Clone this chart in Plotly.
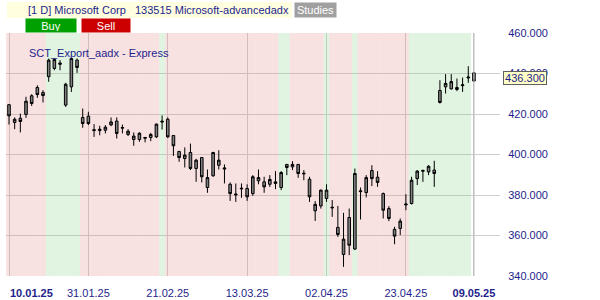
import plotly.graph_objects as go

# ---------------- data ----------------
dates = [
    "2025-01-10", "2025-01-13", "2025-01-14", "2025-01-15", "2025-01-16", "2025-01-17",
    "2025-01-21", "2025-01-22", "2025-01-23", "2025-01-24", "2025-01-27", "2025-01-28",
    "2025-01-29", "2025-01-30", "2025-01-31",
    "2025-02-03", "2025-02-04", "2025-02-05", "2025-02-06", "2025-02-07", "2025-02-10",
    "2025-02-11", "2025-02-12", "2025-02-13", "2025-02-14", "2025-02-18", "2025-02-19",
    "2025-02-20", "2025-02-21", "2025-02-24", "2025-02-25", "2025-02-26", "2025-02-27",
    "2025-02-28",
    "2025-03-03", "2025-03-04", "2025-03-05", "2025-03-06", "2025-03-07", "2025-03-10",
    "2025-03-11", "2025-03-12", "2025-03-13", "2025-03-14", "2025-03-17", "2025-03-18",
    "2025-03-19", "2025-03-20", "2025-03-21", "2025-03-24", "2025-03-25", "2025-03-26",
    "2025-03-27", "2025-03-28", "2025-03-31",
    "2025-04-01", "2025-04-02", "2025-04-03", "2025-04-04", "2025-04-07", "2025-04-08",
    "2025-04-09", "2025-04-10", "2025-04-11", "2025-04-14", "2025-04-15", "2025-04-16",
    "2025-04-17", "2025-04-21", "2025-04-22", "2025-04-23", "2025-04-24", "2025-04-25",
    "2025-04-28", "2025-04-29", "2025-04-30",
    "2025-05-01", "2025-05-02", "2025-05-05", "2025-05-06", "2025-05-07", "2025-05-08",
    "2025-05-09",
]

opens = [
    424.6, 415.8, 417.9, 419.8, 429.0, 433.1, 430.6, 438.4, 442.5, 445.2, 424.4, 433.4,
    446.6, 418.3, 418.9,
    411.8, 411.8, 412.0, 414.6, 416.5, 413.0, 409.9, 407.4, 407.4, 408.0, 408.4, 408.7,
    416.0, 417.4, 409.4, 401.5, 398.0, 401.0, 393.1,
    398.5, 383.7, 389.5, 394.7, 392.8, 385.3, 380.0, 383.0, 383.2, 380.7, 387.0, 386.5,
    385.3, 385.7, 383.7, 395.1, 393.9, 395.1, 390.4, 387.8, 372.2,
    374.6, 378.3, 373.6, 364.0, 350.6, 368.9, 353.3, 382.1, 381.2, 392.1, 388.8, 380.7,
    373.3, 363.0, 363.5, 375.1, 375.8, 388.1, 391.7, 391.4, 392.3,
    431.6, 433.4, 432.4, 433.1, 434.0, 437.8, 440.3,
]

highs = [
    424.9, 418.3, 420.2, 428.5, 429.8, 434.2, 431.8, 447.4, 447.4, 446.6, 435.4, 447.9,
    447.4, 422.7, 421.1,
    415.0, 414.2, 414.5, 418.3, 418.3, 414.8, 412.5, 410.9, 411.0, 408.7, 410.7, 415.3,
    419.3, 418.3, 409.4, 401.8, 403.5, 405.4, 397.9,
    398.5, 392.6, 401.3, 402.1, 395.1, 386.2, 385.7, 385.7, 385.3, 389.8, 392.6, 389.0,
    389.8, 391.8, 391.8, 395.1, 396.7, 395.1, 392.3, 389.0, 377.0,
    382.7, 385.3, 377.5, 374.6, 371.2, 373.3, 393.1, 383.7, 389.8, 394.7, 391.8, 381.2,
    374.5, 364.3, 368.4, 380.4, 389.0, 392.3, 392.6, 394.7, 396.9,
    436.7, 439.7, 439.7, 437.5, 438.0, 443.6, 440.8,
]

lows = [
    414.8, 412.5, 410.9, 418.1, 424.0, 428.0, 425.7, 435.9, 441.6, 441.6, 423.5, 430.9,
    440.3, 413.2, 414.5,
    408.7, 409.5, 410.4, 414.0, 407.9, 410.4, 409.1, 404.3, 406.3, 406.0, 406.6, 408.2,
    412.3, 408.2, 399.3, 396.4, 393.6, 392.3, 386.5,
    386.2, 381.1, 389.0, 392.6, 385.7, 377.1, 376.6, 378.6, 377.1, 379.6, 385.3, 381.1,
    384.0, 382.9, 382.4, 389.8, 392.3, 388.5, 387.3, 376.6, 367.2,
    373.3, 376.6, 369.2, 359.3, 344.5, 350.3, 352.8, 367.9, 378.8, 384.4, 384.0, 368.4,
    367.1, 355.7, 360.2, 372.5, 375.3, 384.9, 386.5, 389.8, 384.0,
    425.2, 430.1, 432.1, 431.3, 430.9, 435.4, 436.2,
]

closes = [
    419.1, 417.4, 416.3, 426.3, 425.2, 429.6, 429.1, 446.6, 446.9, 444.6, 434.7, 447.4,
    443.0, 415.3, 415.3,
    412.2, 412.5, 413.5, 416.1, 410.4, 413.3, 411.5, 409.1, 410.5, 408.4, 409.9, 415.0,
    416.4, 408.7, 404.3, 398.5, 399.7, 393.1, 397.2,
    389.0, 388.6, 401.0, 397.2, 393.3, 380.7, 380.4, 383.3, 379.1, 389.0, 388.6, 384.0,
    387.7, 386.5, 391.1, 393.6, 395.1, 390.6, 390.7, 379.1, 375.4,
    382.4, 382.4, 373.9, 360.5, 358.2, 355.2, 390.6, 381.7, 388.6, 388.1, 386.2, 372.5,
    368.4, 359.7, 367.1, 375.5, 387.3, 391.8, 392.1, 394.2, 390.6,
    425.7, 435.1, 436.0, 432.1, 434.4, 438.2, 436.3,
]

# S = sell regime (red band), B = buy regime (green band), N = none
regime = list(
    "SSSSSSS" "BBBBBB" "SSSSSSSSSSSSSS" "B" "SSSSSSSSSSSSSSSSSSSS" "BB"
    "SSSSSS" "B" "SSSS" "B" "SSSSSSSSS" "BBBBBBBBBBB" "N"
)

tick_dates = ["2025-01-10", "2025-01-31", "2025-02-21", "2025-03-13",
              "2025-04-02", "2025-04-23", "2025-05-09"]
bold_ticks = ["2025-01-10", "2025-05-09"]
y_ticks = [340, 360, 380, 400, 420, 440, 460]

title_text = "[1 D] Microsoft Corp   133515 Microsoft-advancedadx"
strategy_text = "SCT_Export_aadx - Express"

# ---------------- styling ----------------
NAVY = "#1e1e8c"
FONT = "Liberation Sans, Arial, sans-serif"
band_colors = {"S": "rgba(226,128,128,0.24)", "B": "rgba(128,204,128,0.24)", "N": "rgba(0,0,0,0)"}

x = list(range(len(dates)))


def fmt(d):
    y, m, dd = d.split("-")
    return f"{dd}.{m}.{y[2:]}"


tickvals = [dates.index(d) for d in tick_dates]
ticktext = []
for d in tick_dates:
    if d == tick_dates[0]:
        ticktext.append("")  # first label drawn left-aligned as annotation
    elif d in bold_ticks:
        ticktext.append(f"<b>{fmt(d)}</b>")
    else:
        ticktext.append(fmt(d))

fig = go.Figure()

# regime bands
fig.add_trace(go.Bar(
    x=x,
    y=[y_ticks[-1] - y_ticks[0]] * len(x),
    base=y_ticks[0],
    width=1,
    marker=dict(color=[band_colors[r] for r in regime], line=dict(width=0)),
    hoverinfo="skip",
    showlegend=False,
))

# candles
fig.add_trace(go.Candlestick(
    x=x, open=opens, high=highs, low=lows, close=closes,
    increasing=dict(fillcolor="#808080", line=dict(color="#000000", width=1)),
    decreasing=dict(fillcolor="#808080", line=dict(color="#000000", width=1)),
    whiskerwidth=0,
    showlegend=False,
))

px_per = 5.67
left_px, right_px = 6, 500
top_px, bottom_px = 33, 276
first_px = 9
x_lo = -(first_px - left_px) / px_per
x_hi = (right_px - first_px) / px_per

fig.update_layout(
    width=600, height=300,
    margin=dict(l=left_px, r=600 - right_px, t=top_px, b=300 - bottom_px, autoexpand=False),
    paper_bgcolor="white", plot_bgcolor="white",
    font=dict(family=FONT, size=11, color=NAVY),
    boxgap=0.35,
    xaxis=dict(
        range=[x_lo, x_hi], tickvals=tickvals, ticktext=ticktext,
        showgrid=True, gridcolor="#cfcfcf", gridwidth=1,
        zeroline=False, showline=False, automargin=False,
        ticks="outside", ticklen=7, tickcolor="rgba(0,0,0,0)",
        tickfont=dict(family=FONT, size=11, color=NAVY),
        rangeslider=dict(visible=False),
    ),
    yaxis=dict(
        range=[y_ticks[0], y_ticks[-1]], tickvals=y_ticks, tickformat=".3f",
        side="right", showgrid=True, gridcolor="#cfcfcf", gridwidth=1,
        zeroline=False, showline=False, automargin=False,
        ticks="outside", ticklen=5, tickcolor="rgba(0,0,0,0)",
        tickfont=dict(family=FONT, size=11, color=NAVY),
    ),
)

# darker vertical line at last bar
fig.add_shape(type="line", xref="x", yref="y", x0=x[-1], x1=x[-1],
              y0=y_ticks[0], y1=y_ticks[-1], line=dict(color="#b4b4b4", width=1))


def px_x(p):
    return (p - left_px) / (right_px - left_px)


def px_y(p):
    return (bottom_px - p) / (bottom_px - top_px)


# header bar
fig.add_shape(type="rect", xref="paper", yref="paper",
              x0=px_x(7), x1=px_x(292), y0=px_y(18), y1=px_y(2),
              fillcolor="#ffffe0", line=dict(width=0), layer="above")

fig.add_annotation(xref="paper", yref="paper", x=px_x(26), y=px_y(10),
                   xanchor="left", yanchor="middle", showarrow=False,
                   text=title_text, font=dict(family=FONT, size=11, color=NAVY))

fig.add_annotation(xref="paper", yref="paper", x=px_x(315.5), y=px_y(10),
                   xanchor="center", yanchor="middle", showarrow=False,
                   text="Studies", bgcolor="#a0a0a0", width=39, height=12,
                   borderpad=1, font=dict(family=FONT, size=11, color="white"))

fig.add_annotation(xref="paper", yref="paper", x=px_x(51), y=px_y(25.5),
                   xanchor="center", yanchor="middle", showarrow=False,
                   text="Buy", bgcolor="#00a000", width=48, height=11,
                   borderpad=1, font=dict(family=FONT, size=11, color="white"))

fig.add_annotation(xref="paper", yref="paper", x=px_x(106), y=px_y(25.5),
                   xanchor="center", yanchor="middle", showarrow=False,
                   text="Sell", bgcolor="#cc0000", width=46, height=11,
                   borderpad=1, font=dict(family=FONT, size=11, color="white"))

fig.add_annotation(xref="paper", yref="paper", x=px_x(27), y=px_y(53),
                   xanchor="left", yanchor="middle", showarrow=False,
                   text=strategy_text, font=dict(family=FONT, size=11, color=NAVY))

# first x label, left aligned at first bar
fig.add_annotation(xref="x", yref="paper", x=x[0], y=px_y(293),
                   xanchor="left", yanchor="middle", showarrow=False, xshift=-1,
                   text=f"<b>{fmt(dates[0])}</b>", font=dict(family=FONT, size=11, color=NAVY))

# last price label
fig.add_annotation(xref="paper", yref="y", x=px_x(525), y=closes[-1],
                   xanchor="center", yanchor="middle", showarrow=False, yshift=3,
                   text=f"{closes[-1]:.3f}", bgcolor="#ffffc8", bordercolor="#606060",
                   borderwidth=1, borderpad=0, width=42, height=12,
                   font=dict(family=FONT, size=11, color=NAVY))

fig.write_html("out.html")
